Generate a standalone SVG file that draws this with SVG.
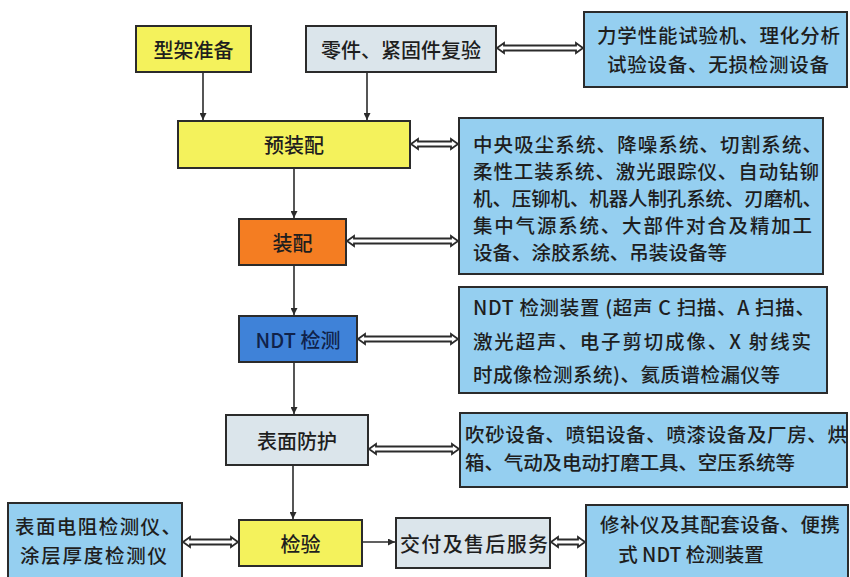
<svg xmlns="http://www.w3.org/2000/svg" width="850" height="577" viewBox="0 0 850 577">
<style>
.box{stroke:#2b2b2b;stroke-width:2}
.yel{fill:#f4f25c}
.gry{fill:#dbe5eb}
.blu{fill:#95cff0}
.org{fill:#f47d22}
.ndt{fill:#3f82d8}
text{font-family:"Noto Sans CJK SC","Noto Sans",sans-serif;fill:#1e1e1e;dominant-baseline:central;font-weight:500}
.n{font-size:20px;text-anchor:middle}
.i{font-size:19.5px}
.line{stroke:#2b2b2b;stroke-width:1.6;fill:none}
.dbl{fill:#fff;stroke:#2b2b2b;stroke-width:1.8;stroke-linejoin:miter}
</style>
<defs>
<marker id="ah" viewBox="0 0 10 10" refX="10" refY="5" markerWidth="7" markerHeight="7" markerUnits="userSpaceOnUse" orient="auto">
<path d="M0,0 L10,5 L0,10 Z" fill="#2b2b2b"/>
</marker>
</defs>
<rect width="850" height="577" fill="#fff"/>

<g id="connectors">
<line class="line" x1="203" y1="72" x2="203" y2="120" marker-end="url(#ah)"/>
<line class="line" x1="367" y1="72" x2="367" y2="120" marker-end="url(#ah)"/>
<line class="line" x1="294" y1="168" x2="294" y2="218" marker-end="url(#ah)"/>
<line class="line" x1="294" y1="265" x2="294" y2="315" marker-end="url(#ah)"/>
<line class="line" x1="294" y1="362" x2="294" y2="414" marker-end="url(#ah)"/>
<line class="line" x1="293" y1="465" x2="293" y2="519" marker-end="url(#ah)"/>
<line class="line" x1="362" y1="542" x2="395" y2="542" marker-end="url(#ah)"/>
<path class="dbl" d="M497,48 L504,43 L504,45.5 L576,45.5 L576,43 L583,48 L576,53 L576,50.5 L504,50.5 L504,53 Z"/>
<path class="dbl" d="M411,144 L418,139 L418,141.5 L451,141.5 L451,139 L458,144 L451,149 L451,146.5 L418,146.5 L418,149 Z"/>
<path class="dbl" d="M347,241 L354,236 L354,238.5 L451,238.5 L451,236 L458,241 L451,246 L451,243.5 L354,243.5 L354,246 Z"/>
<path class="dbl" d="M358,339 L365,334 L365,336.5 L451,336.5 L451,334 L458,339 L451,344 L451,341.5 L365,341.5 L365,344 Z"/>
<path class="dbl" d="M369,449 L376,444 L376,446.5 L452,446.5 L452,444 L459,449 L452,454 L452,451.5 L376,451.5 L376,454 Z"/>
<path class="dbl" d="M183,542 L190,537 L190,539.5 L231,539.5 L231,537 L238,542 L231,547 L231,544.5 L190,544.5 L190,547 Z"/>
<path class="dbl" d="M551,542 L558,537 L558,539.5 L578,539.5 L578,537 L585,542 L578,547 L578,544.5 L558,544.5 L558,547 Z"/>
</g>

<g id="n-xingjia">
<rect class="box yel" x="136" y="26" width="115" height="46"/>
<text class="n" x="193.5" y="49">型架准备</text>
</g>
<g id="n-lingjian">
<rect class="box gry" x="306" y="26" width="190" height="46"/>
<text class="n" x="401" y="49">零件、紧固件复验</text>
</g>
<g id="n-lixue">
<rect class="box blu" x="584" y="12" width="263" height="75"/>
<text class="i" x="597" y="34" textLength="243" lengthAdjust="spacing">力学性能试验机、理化分析</text>
<text class="i" x="607" y="63" textLength="222" lengthAdjust="spacing">试验设备、无损检测设备</text>
</g>
<g id="n-yuzhuangpei">
<rect class="box yel" x="178" y="121" width="232" height="47"/>
<text class="n" x="294" y="144.5">预装配</text>
</g>
<g id="n-equip1">
<rect class="box blu" x="459" y="118" width="364" height="156"/>
<text class="i" x="473" y="143" textLength="349" lengthAdjust="spacing">中央吸尘系统、降噪系统、切割系统、</text>
<text class="i" x="473" y="170" textLength="346" lengthAdjust="spacing">柔性工装系统、激光跟踪仪、自动钻铆</text>
<text class="i" x="473" y="197" textLength="349" lengthAdjust="spacing">机、压铆机、机器人制孔系统、刃磨机、</text>
<text class="i" x="473" y="224" textLength="339" lengthAdjust="spacing">集中气源系统、大部件对合及精加工</text>
<text class="i" x="473" y="251" textLength="254" lengthAdjust="spacing">设备、涂胶系统、吊装设备等</text>
</g>
<g id="n-zhuangpei">
<rect class="box org" x="239" y="219" width="107" height="46"/>
<text class="n" x="292.5" y="242">装配</text>
</g>
<g id="n-ndt">
<rect class="box ndt" x="239" y="316" width="118" height="46"/>
<text class="n" x="298" y="339" style="fill:#10224a">NDT 检测</text>
</g>
<g id="n-equip2">
<rect class="box blu" x="459" y="287" width="368" height="106"/>
<text class="i" x="473" y="306" textLength="342" lengthAdjust="spacing">NDT 检测装置 (超声 C 扫描、A 扫描、</text>
<text class="i" x="473" y="340" textLength="338" lengthAdjust="spacing">激光超声、电子剪切成像、X 射线实</text>
<text class="i" x="473" y="373" textLength="307" lengthAdjust="spacing">时成像检测系统)、氦质谱检漏仪等</text>
</g>
<g id="n-biaomian">
<rect class="box gry" x="226" y="415" width="142" height="50"/>
<text class="n" x="297" y="440">表面防护</text>
</g>
<g id="n-equip3">
<rect class="box blu" x="460" y="413" width="387" height="74"/>
<text class="i" x="465" y="433" textLength="382" lengthAdjust="spacing">吹砂设备、喷铝设备、喷漆设备及厂房、烘</text>
<text class="i" x="465" y="461" textLength="330" lengthAdjust="spacing">箱、气动及电动打磨工具、空压系统等</text>
</g>
<g id="n-dianzu">
<rect class="box blu" x="8" y="503" width="174" height="80"/>
<text class="i" x="15" y="525" textLength="166" lengthAdjust="spacing">表面电阻检测仪、</text>
<text class="i" x="20" y="554" textLength="147" lengthAdjust="spacing">涂层厚度检测仪</text>
</g>
<g id="n-jianyan">
<rect class="box yel" x="239" y="520" width="123" height="46"/>
<text class="n" x="300.5" y="543">检验</text>
</g>
<g id="n-jiaofu">
<rect class="box gry" x="396" y="518" width="154" height="50"/>
<text class="n" x="474" y="543" textLength="148" lengthAdjust="spacing">交付及售后服务</text>
</g>
<g id="n-xiubu">
<rect class="box blu" x="586" y="505" width="262" height="80"/>
<text class="i" x="600" y="523" textLength="240" lengthAdjust="spacing">修补仪及其配套设备、便携</text>
<text class="i" x="691" y="553" style="text-anchor:middle">式 NDT 检测装置</text>
</g>
</svg>
